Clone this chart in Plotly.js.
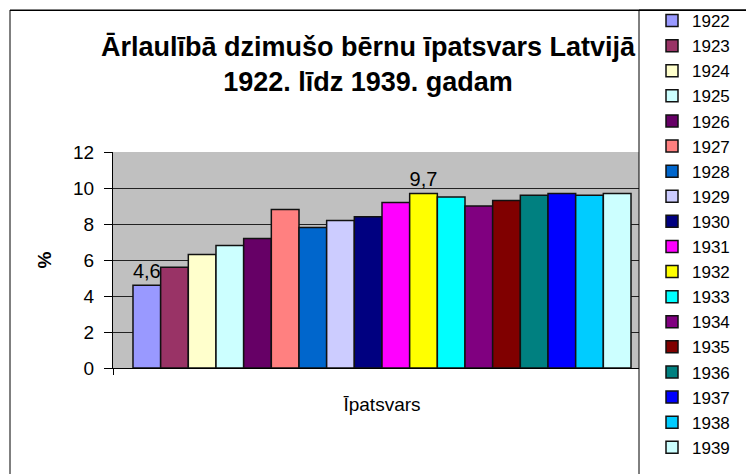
<!DOCTYPE html>
<html>
<head>
<meta charset="utf-8">
<script src="https://cdn.plot.ly/plotly-3.0.1.min.js"></script>
<style>html,body{margin:0;padding:0;background:#fff;overflow:hidden;}#chart{width:746px;height:474px;}</style>
</head>
<body>
<div id="chart"></div>
<script>
const category = ['Īpatsvars'];
const years = ['1922','1923','1924','1925','1926','1927','1928','1929','1930','1931','1932','1933','1934','1935','1936','1937','1938','1939'];
const values = [4.6,5.6,6.3,6.8,7.2,8.8,7.8,8.2,8.4,9.2,9.7,9.5,9.0,9.3,9.6,9.7,9.6,9.7];
const colors = ['#9999FF','#993366','#FFFFCC','#CCFFFF','#660066','#FF8080','#0066CC','#CCCCFF','#000080','#FF00FF','#FFFF00','#00FFFF','#800080','#800000','#008080','#0000FF','#00CCFF','#CCFFFF'];
const labelledYears = ['1922','1932'];
const yTicks = [0,2,4,6,8,10,12];

const FONT = 'Liberation Sans, Arial, sans-serif';

const traces = years.map((yr, i) => ({
  type: 'bar',
  name: yr,
  x: category,
  y: [values[i]],
  legendgroup: yr,
  marker: {color: colors[i], line: {color: '#111', width: 1.5}},
  texttemplate: labelledYears.includes(yr) ? '%{y:.1f}' : '',
  textposition: 'outside',
  constraintext: 'none',
  cliponaxis: false,
  textfont: {family: FONT, size: 20, color: '#000'},
  hoverinfo: 'none'
}));

const W = 746, H = 474;
const L = 113, R = 651, T = 152, B = 368;
const px = v => (v - L) / (R - L);
const py = v => (B - v) / (B - T);

const layout = {
  width: W, height: H,
  margin: {l: L, r: W - R, t: T, b: H - B, pad: 0, autoexpand: false},
  paper_bgcolor: '#fff',
  plot_bgcolor: '#C0C0C0',
  separators: ', ',
  font: {family: FONT, size: 19, color: '#000'},
  barmode: 'group',
  bargap: 0.0743,
  bargroupgap: 0,
  showlegend: true,
  title: {
    text: '<b>Ārlaulībā dzimušo bērnu īpatsvars Latvijā<br>1922. līdz 1939. gadam</b>',
    font: {family: FONT, size: 27, color: '#000'},
    x: 368 / W, xanchor: 'center', xref: 'container',
    y: 1 - 56 / H, yanchor: 'middle', yref: 'container'
  },
  xaxis: {
    type: 'category',
    showline: true, linecolor: '#000', linewidth: 1,
    ticks: 'outside', tickson: 'boundaries', ticklen: 6, tickcolor: '#000',
    ticklabelstandoff: 19,
    tickfont: {family: FONT, size: 19},
    showgrid: false, zeroline: false, fixedrange: true
  },
  yaxis: {
    range: [0, 12],
    tickvals: yTicks,
    showline: true, linecolor: '#000', linewidth: 1,
    ticks: 'outside', ticklen: 8, tickcolor: '#000',
    ticklabelstandoff: 6,
    tickfont: {family: FONT, size: 19},
    showgrid: true, gridcolor: '#222', gridwidth: 1,
    zeroline: false,
    title: {text: '<b>%</b>', font: {family: FONT, size: 19}, standoff: 16},
    automargin: false, fixedrange: true
  },
  legend: {
    x: px(652), xanchor: 'left',
    y: py(3), yanchor: 'top',
    bgcolor: 'rgba(255,255,255,0)',
    borderwidth: 0,
    font: {family: FONT, size: 17, color: '#000'},
    tracegroupgap: 0.5,
    traceorder: 'normal',
    maxheight: 600
  },
  shapes: [
    {type: 'rect', xref: 'paper', yref: 'paper', layer: 'above',
     x0: px(639), x1: px(760), y0: py(10), y1: py(490),
     fillcolor: '#fff', line: {color: '#000', width: 1}},
    {type: 'rect', xref: 'paper', yref: 'paper', layer: 'above',
     x0: px(10), x1: px(760), y0: py(10), y1: py(490),
     fillcolor: 'rgba(0,0,0,0)', line: {color: '#000', width: 1}},
    {type: 'line', xref: 'paper', yref: 'paper', layer: 'above',
     x0: px(10), x1: px(760), y0: py(10.5), y1: py(10.5),
     line: {color: '#000', width: 1}}
  ]
};

Plotly.newPlot('chart', traces, layout, {displayModeBar: false, staticPlot: true});
</script>
</body>
</html>
